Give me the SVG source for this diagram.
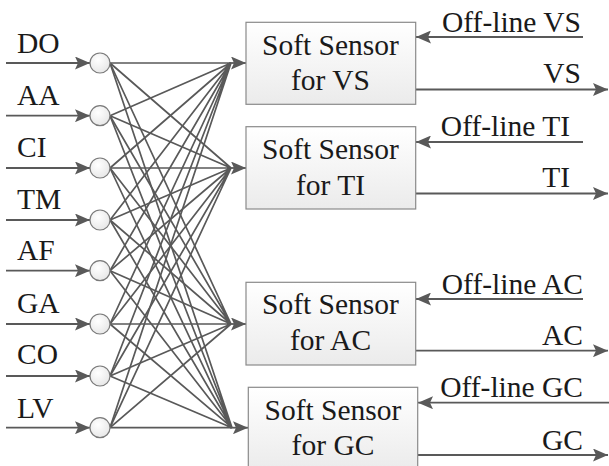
<svg xmlns="http://www.w3.org/2000/svg" width="609" height="466" viewBox="0 0 609 466">
  <style>
    .mid { text-anchor: middle; }
    .end { text-anchor: end; }
    .wire { stroke: #595959; stroke-width: 1.7; fill: none; }
    .arr { stroke: #595959; stroke-width: 1.8; fill: none; marker-end: url(#head); }
    .box { fill: url(#boxFill); stroke: #8a8a8a; stroke-width: 1.2; }
    .neuron { fill: url(#nodeFill); stroke: #7a7a7a; stroke-width: 1.2; }
  </style>
  <defs>
    <marker id="head" markerUnits="userSpaceOnUse" markerWidth="15" markerHeight="13" refX="15" refY="6.5" orient="auto">
      <path d="M0,0 L15,6.5 L0,13 L3,6.5 z" fill="#595959"/>
    </marker>
    <linearGradient id="boxFill" x1="0" y1="0" x2="0" y2="1">
      <stop offset="0" stop-color="#ffffff"/>
      <stop offset="1" stop-color="#ebebeb"/>
    </linearGradient>
    <radialGradient id="nodeFill" cx="0.4" cy="0.35" r="0.7">
      <stop offset="0" stop-color="#ffffff"/>
      <stop offset="1" stop-color="#e6e6e6"/>
    </radialGradient>
  </defs>

  <!-- connectors -->
  <g id="connectors">
    <!-- inputs into the neurons -->
    <line class="arr" x1="6" y1="63" x2="90" y2="63"/>
    <line class="arr" x1="6" y1="115.7" x2="90" y2="115.7"/>
    <line class="arr" x1="6" y1="168" x2="90" y2="168"/>
    <line class="arr" x1="6" y1="220" x2="90" y2="220"/>
    <line class="arr" x1="6" y1="270.7" x2="90" y2="270.7"/>
    <line class="arr" x1="6" y1="324" x2="90" y2="324"/>
    <line class="arr" x1="6" y1="376" x2="90" y2="376"/>
    <line class="arr" x1="6" y1="427.7" x2="90" y2="427.7"/>

    <!-- full mesh: every neuron to every sensor -->
    <g id="mesh">
      <path class="wire" d="M110,63 L231,63 M110,115.7 L231,63 M110,168 L231,63 M110,220 L231,63 M110,270.7 L231,63 M110,324 L231,63 M110,376 L231,63 M110,427.7 L231,63"/>
      <path class="wire" d="M110,63 L231,168 M110,115.7 L231,168 M110,168 L231,168 M110,220 L231,168 M110,270.7 L231,168 M110,324 L231,168 M110,376 L231,168 M110,427.7 L231,168"/>
      <path class="wire" d="M110,63 L231,324 M110,115.7 L231,324 M110,168 L231,324 M110,220 L231,324 M110,270.7 L231,324 M110,324 L231,324 M110,376 L231,324 M110,427.7 L231,324"/>
      <path class="wire" d="M110,63 L232,427.7 M110,115.7 L232,427.7 M110,168 L232,427.7 M110,220 L232,427.7 M110,270.7 L232,427.7 M110,324 L232,427.7 M110,376 L232,427.7 M110,427.7 L232,427.7"/>
    </g>

    <!-- arrows into the sensors -->
    <line class="arr" x1="229" y1="63" x2="246" y2="63"/>
    <line class="arr" x1="229" y1="168" x2="246" y2="168"/>
    <line class="arr" x1="229" y1="324" x2="246" y2="324"/>
    <line class="arr" x1="230" y1="427.7" x2="248" y2="427.7"/>

    <!-- off-line measurements and outputs -->
    <line class="arr" x1="583" y1="37" x2="416" y2="37"/>
    <line class="arr" x1="416" y1="89.5" x2="608" y2="89.5"/>
    <line class="arr" x1="583" y1="142" x2="416" y2="142"/>
    <line class="arr" x1="416" y1="193.5" x2="608" y2="193.5"/>
    <line class="arr" x1="583" y1="299" x2="416" y2="299"/>
    <line class="arr" x1="416" y1="350.7" x2="608" y2="350.7"/>
    <line class="arr" x1="609" y1="402.7" x2="418" y2="402.7"/>
    <line class="arr" x1="418" y1="455" x2="608" y2="455"/>
  </g>

  <g font-family="Liberation Serif, DejaVu Serif, serif" font-size="29.5" fill="#1a1a1a">
  <!-- input neurons -->
  <g id="in-DO"><circle class="neuron" cx="100" cy="63" r="10"/><text x="17" y="52.5">DO</text></g>
  <g id="in-AA"><circle class="neuron" cx="100" cy="115.7" r="10"/><text x="17" y="104.5">AA</text></g>
  <g id="in-CI"><circle class="neuron" cx="100" cy="168" r="10"/><text x="17" y="156.5">CI</text></g>
  <g id="in-TM"><circle class="neuron" cx="100" cy="220" r="10"/><text x="17" y="208.5">TM</text></g>
  <g id="in-AF"><circle class="neuron" cx="100" cy="270.7" r="10"/><text x="17" y="259.5">AF</text></g>
  <g id="in-GA"><circle class="neuron" cx="100" cy="324" r="10"/><text x="17" y="312.5">GA</text></g>
  <g id="in-CO"><circle class="neuron" cx="100" cy="376" r="10"/><text x="17" y="364">CO</text></g>
  <g id="in-LV"><circle class="neuron" cx="100" cy="427.7" r="10"/><text x="17" y="418">LV</text></g>

  <!-- soft sensors -->
  <g id="sensor-VS">
    <rect class="box" x="246" y="22.3" width="169.7" height="82"/>
    <text class="mid" x="330.5" y="55">Soft Sensor</text>
    <text class="mid" x="330.5" y="90">for VS</text>
    <text class="end" x="581" y="32">Off-line VS</text>
    <text class="end" x="581" y="83">VS</text>
  </g>
  <g id="sensor-TI">
    <rect class="box" x="246" y="126.7" width="169.7" height="82.3"/>
    <text class="mid" x="330.5" y="159">Soft Sensor</text>
    <text class="mid" x="330.5" y="194.5">for TI</text>
    <text class="end" x="570" y="135.5">Off-line TI</text>
    <text class="end" x="570" y="187">TI</text>
  </g>
  <g id="sensor-AC">
    <rect class="box" x="246" y="282.3" width="169.7" height="82.7"/>
    <text class="mid" x="330.5" y="314">Soft Sensor</text>
    <text class="mid" x="330.5" y="350">for AC</text>
    <text class="end" x="583" y="293.5">Off-line AC</text>
    <text class="end" x="583" y="345">AC</text>
  </g>
  <g id="sensor-GC">
    <rect class="box" x="248.3" y="387.3" width="169.4" height="84"/>
    <text class="mid" x="333" y="419.5">Soft Sensor</text>
    <text class="mid" x="333" y="454.5">for GC</text>
    <text class="end" x="583" y="397">Off-line GC</text>
    <text class="end" x="583" y="450">GC</text>
  </g>
  </g>
</svg>
